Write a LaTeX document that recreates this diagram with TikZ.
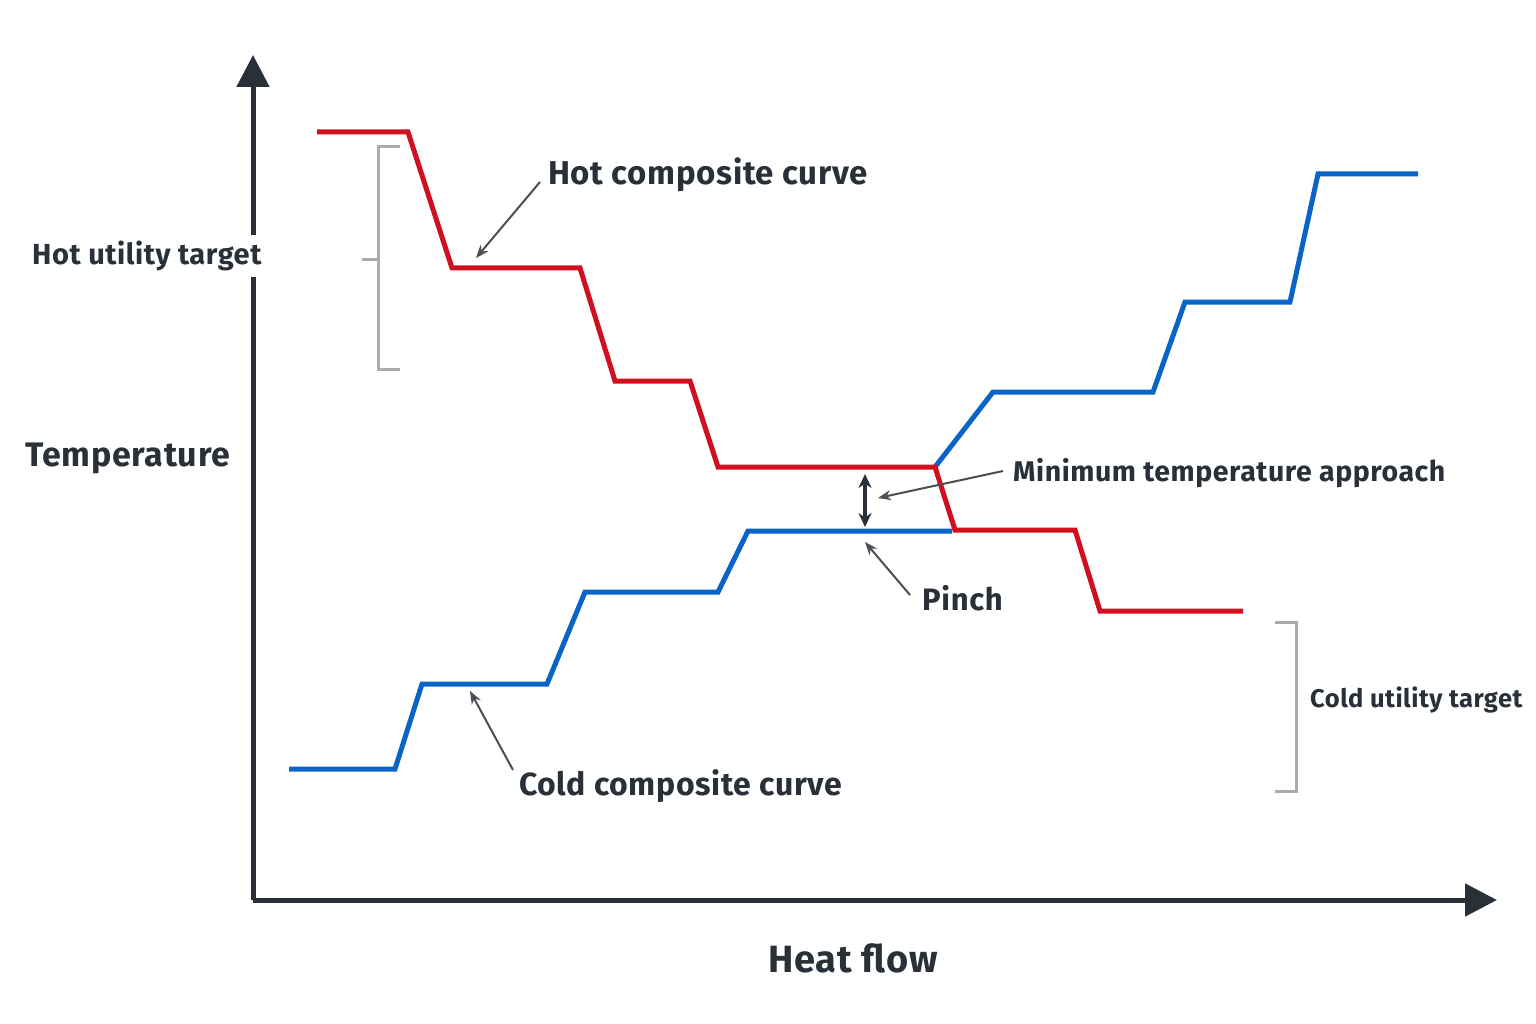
\documentclass[tikz,border=0pt]{standalone}
\usepackage{fontspec}
\setmainfont{Fira Sans}[LetterSpace=2]
\usetikzlibrary{arrows.meta}
\definecolor{hotred}{HTML}{D0101F}
\definecolor{coldblue}{HTML}{0A64C8}
\definecolor{axisdark}{HTML}{2A3038}
\definecolor{brgray}{HTML}{A8ABAF}
\newcommand{\fs}[1]{\fontsize{#1}{#1}\selectfont\bfseries}
\begin{document}
\begin{tikzpicture}[x=1pt,y=-1pt,
  curve/.style={line width=5pt,line join=miter},
  axis/.style={line width=5pt,draw=axisdark,-{Triangle[length=32pt,width=32pt]}},
  bracket/.style={line width=3pt,draw=brgray},
  lbl/.style={font=\fs{31},text=axisdark,inner sep=0pt,anchor=west},
  big/.style={font=\fs{37},text=axisdark,inner sep=0pt},
  ptr/.style={line width=2pt,draw=axisdark!85,-{Stealth[length=13pt,width=10pt]}}]
\useasboundingbox (0,0) rectangle (1536,1024);
\fill[white] (0,0) rectangle (1536,1024);
% axes
\coordinate (o) at (253,900);
\coordinate (ytip) at (253,55);
\coordinate (xtip) at (1497,900);
\draw[axis] (o) -- (ytip);
\draw[axis] (o) -- (xtip);
% brackets
\draw[bracket] (400,147) -- (378,147) -- (378,369) -- (400,369);
\draw[bracket] (362,260) -- (378,260);
\draw[bracket] (1275,622) -- (1296,622) -- (1296,791) -- (1275,791);
% curves
\draw[curve,coldblue] (289,769)--(395,769)--(422,684)--(547,684)--(585,592)--(718,592)--(748,531)--(952,531);
\draw[curve,coldblue] (935,467)--(993,392)--(1153,392)--(1185,302)--(1290,302)--(1318,174)--(1418,174);
\draw[curve,hotred] (317,132)--(408,132)--(452,268)--(580,268)--(615,381)--(690,381)--(718,467)--(935,467)--(955,530)--(1075,530)--(1100,611)--(1243,611);
% labels
\node[lbl,font=\fs{29},fill=white,inner xsep=4pt,inner ysep=6pt] (hut) at (28,256) {Hot utility target};
\node[lbl,font=\fs{33}] (hcc) at (548,175) {Hot composite curve};
\node[lbl,font=\fs{28.5}] (mta) at (1013,473) {Minimum temperature approach};
\node[lbl] (pin) at (922,598) {Pinch};
\node[lbl,font=\fs{32}] (ccc) at (519,786) {Cold composite curve};
\node[lbl,font=\fs{25.5}] (cut) at (1310,700) {Cold utility target};
\node[big,font=\fs{34},anchor=west] (temp) at (25,458) {Temperature};
\node[big,font=\fs{38}] (hf) at (853,958) {Heat flow};
% pointers
\coordinate (p1) at (476,258);
\coordinate (p2) at (878,498);
\coordinate (p3) at (865,542);
\coordinate (p4) at (470,691);
\draw[ptr] (540,182) -- (p1);
\draw[ptr] (1003,471) -- (p2);
\draw[ptr] (910,595) -- (p3);
\draw[ptr] (513,770) -- (p4);
\coordinate (da) at (865,474);
\coordinate (db) at (865,527);
\draw[line width=3.5pt,draw=axisdark,{Stealth[length=14pt,width=13pt]}-{Stealth[length=14pt,width=13pt]}] (da) -- (db);
\end{tikzpicture}
\end{document}
